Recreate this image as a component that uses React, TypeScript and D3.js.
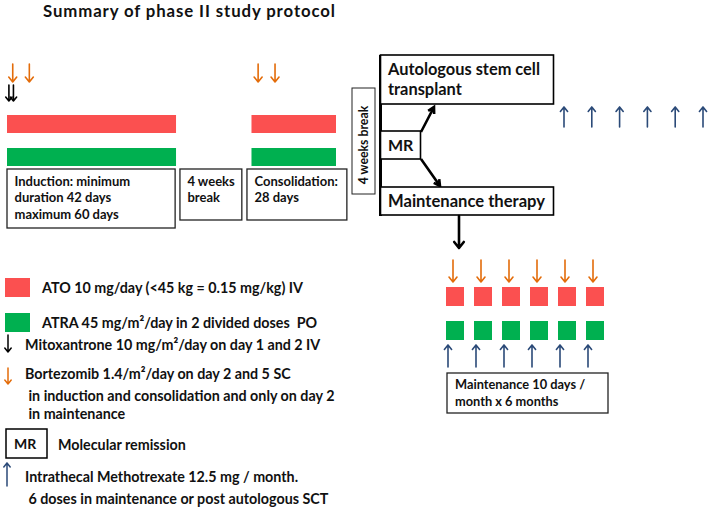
import React from "react";
import * as d3 from "d3";

const TITLE = "Summary of phase II study protocol";

// Timeline (days) for the induction / consolidation part
const phases = [
  { name: "induction", start: 0, end: 56 },
  { name: "consolidation", start: 81, end: 109 },
];
const bortezomibDays = [1.9, 7.4, 83.2, 88.8];
const mitoxantroneDays = [0.3, 1.8];

const phaseBoxes = [
  { start: 0, end: 55.7, lines: ["Induction: minimum", "duration 42 days", "maximum 60 days"], h: 59 },
  { start: 57.3, end: 77.8, lines: ["4 weeks", "break"], h: 51 },
  { start: 79.5, end: 112.6, lines: ["Consolidation:", "28 days"], h: 51 },
];

const maintenanceCycles = [1, 2, 3, 4, 5, 6];
const postSctDoses = [1, 2, 3, 4, 5, 6];

const legendItems = [
  { kind: "red", lines: ["ATO 10 mg/day (<45 kg = 0.15 mg/kg) IV"] },
  { kind: "green", lines: ["ATRA 45 mg/m\u00b2/day in 2 divided doses  PO"] },
  { kind: "black", lines: ["Mitoxantrone 10 mg/m\u00b2/day on day 1 and 2 IV"] },
  { kind: "orange", lines: ["Bortezomib 1.4/m\u00b2/day on day 2 and 5 SC", " in induction and consolidation and only on day 2", " in maintenance"] },
  { kind: "mr", lines: ["Molecular remission"] },
  { kind: "blue", lines: ["Intrathecal Methotrexate 12.5 mg / month.", " 6 doses in maintenance or post autologous SCT"] },
];

const RED = "#fb5050";
const GREEN = "#00b050";
const ORANGE = "#e36c0a";
const BLUE = "#2b4a78";
const FONT = "Lato, 'Open Sans', sans-serif";

const xDay = d3.scaleLinear().domain([0, 109]).range([7, 336]);
const xCycle = d3.scaleLinear().domain([1, 6]).range([455, 595]);
const xDose = d3.scaleLinear().domain([1, 6]).range([564, 703]);

function Arrow({ x, y1, y2, color, w = 1.6, head = 5 }: { x: number; y1: number; y2: number; color: string; w?: number; head?: number }) {
  const dir = y2 > y1 ? 1 : -1;
  const path = d3.path();
  path.moveTo(x, y1);
  path.lineTo(x, y2);
  path.moveTo(x - head * 0.8, y2 - dir * head);
  path.lineTo(x, y2);
  path.lineTo(x + head * 0.8, y2 - dir * head);
  return <path d={path.toString()} fill="none" stroke={color} strokeWidth={w} strokeLinecap="round" strokeLinejoin="round" />;
}

function Slanted({ x1, y1, x2, y2 }: { x1: number; y1: number; x2: number; y2: number }) {
  const a = Math.atan2(y2 - y1, x2 - x1);
  const h = 7;
  const p = d3.path();
  p.moveTo(x1, y1);
  p.lineTo(x2, y2);
  p.moveTo(x2 - h * Math.cos(a - 0.5), y2 - h * Math.sin(a - 0.5));
  p.lineTo(x2, y2);
  p.lineTo(x2 - h * Math.cos(a + 0.5), y2 - h * Math.sin(a + 0.5));
  return <path d={p.toString()} fill="none" stroke="#000" strokeWidth={2.6} />;
}

export default function App() {
  const legendY = [287, 322, 344, 373, 444, 476];
  const lineGaps = [0, 22, 39.5];
  return (
    <svg width={709} height={508} style={{ position: "absolute", left: 0, top: 0, background: "#fff" }} fontFamily={FONT}>
      <text x={43} y={17} fontSize={16.8} fontWeight={700} fill="#111" textLength={292} lengthAdjust="spacing">{TITLE}</text>

      {/* top arrows */}
      {bortezomibDays.map((d, i) => (
        <Arrow key={"b" + i} x={xDay(d)} y1={64} y2={82} color={ORANGE} />
      ))}
      {mitoxantroneDays.map((d, i) => (
        <Arrow key={"m" + i} x={xDay(d) + 1} y1={85} y2={101} color="#000" w={1.6} head={4} />
      ))}

      {/* bars */}
      {phases.map((p) => (
        <g key={p.name}>
          <rect x={xDay(p.start)} y={115} width={xDay(p.end) - xDay(p.start)} height={18} fill={RED} />
          <rect x={xDay(p.start)} y={148} width={xDay(p.end) - xDay(p.start)} height={18} fill={GREEN} />
        </g>
      ))}

      {/* phase boxes */}
      {phaseBoxes.map((b, i) => (
        <g key={i}>
          <rect x={xDay(b.start)} y={169} width={xDay(b.end) - xDay(b.start)} height={b.h} fill="#fff" stroke="#222" strokeWidth={1.3} />
          {b.lines.map((l, j) => (
            <text key={j} x={xDay(b.start) + 7.5} y={185.5 + j * 16.5} fontSize={13} fontWeight={700} fill="#111">{l}</text>
          ))}
        </g>
      ))}

      {/* vertical 4 weeks break */}
      <rect x={352} y={88} width={23} height={106} fill="#fff" stroke="#222" strokeWidth={1} />
      <text transform="translate(368,145) rotate(-90)" textAnchor="middle" fontSize={12.3} fontWeight={700} fill="#111">4 weeks break</text>

      {/* decision part */}
      <line x1={380.5} y1={55} x2={380.5} y2={216} stroke="#000" strokeWidth={3} />
      <rect x={380.5} y={55} width={173} height={49} fill="#fff" stroke="#000" strokeWidth={1.6} />
      <text x={388} y={75} fontSize={16.4} fontWeight={700} fill="#111">Autologous stem cell</text>
      <text x={388} y={95} fontSize={16.4} fontWeight={700} fill="#111">transplant</text>
      <rect x={380.5} y={131} width={40} height={28} fill="#fff" stroke="#000" strokeWidth={1.6} />
      <text x={388} y={151} fontSize={16} fontWeight={700} fill="#111">MR</text>
      <Slanted x1={421} y1={132} x2={434} y2={107} />
      <Slanted x1={421} y1={159} x2={440} y2={186} />
      <rect x={380.5} y={187} width={173} height={28} fill="#fff" stroke="#000" strokeWidth={1.6} />
      <text x={388} y={207} fontSize={16.6} fontWeight={700} fill="#111">Maintenance therapy</text>
      <Arrow x={459} y1={216} y2={248} color="#000" w={2.6} head={6} />

      {postSctDoses.map((d) => (
        <Arrow key={"p" + d} x={xDose(d)} y1={127} y2={107} color={BLUE} w={1.6} head={4.5} />
      ))}

      {/* maintenance cycles */}
      {maintenanceCycles.map((c) => (
        <g key={"c" + c}>
          <Arrow x={xCycle(c) - 2} y1={260} y2={282} color={ORANGE} />
          <rect x={xCycle(c) - 9} y={287} width={18} height={19} fill={RED} />
          <rect x={xCycle(c) - 9} y={321} width={18} height={19} fill={GREEN} />
          <Arrow x={xCycle(c) - 7} y1={367} y2={345} color={BLUE} w={1.6} head={4.5} />
        </g>
      ))}
      <rect x={447} y={373} width={161} height={40} fill="#fff" stroke="#222" strokeWidth={1.3} />
      <text x={455} y={388.5} fontSize={12.8} fontWeight={700} fill="#111">Maintenance 10 days /</text>
      <text x={455} y={405.5} fontSize={12.8} fontWeight={700} fill="#111">month x 6 months</text>

      {/* legend */}
      {legendItems.map((it, i) => {
        const y = legendY[i];
        let sym: React.ReactNode = null;
        let tx = 25;
        if (it.kind === "red" || it.kind === "green") {
          sym = <rect x={5} y={y - 9} width={25} height={19} fill={it.kind === "red" ? RED : GREEN} />;
          tx = 42;
        } else if (it.kind === "black") sym = <Arrow x={8} y1={y - 9} y2={y + 8} color="#000" w={1.5} head={4} />;
        else if (it.kind === "orange") sym = <Arrow x={8} y1={y - 5} y2={y + 11} color={ORANGE} w={1.5} head={4} />;
        else if (it.kind === "blue") sym = <Arrow x={7} y1={y + 10} y2={y - 13} color={BLUE} w={1.5} head={4} />;
        else if (it.kind === "mr") {
          sym = (
            <g>
              <rect x={6} y={y - 15} width={41} height={29} fill="#fff" stroke="#000" strokeWidth={1.5} />
              <text x={14} y={y + 5} fontSize={14} fontWeight={700} fill="#111">MR</text>
            </g>
          );
          tx = 58;
        }
        return (
          <g key={i}>
            {sym}
            {it.lines.map((l, j) => (
              <text key={j} x={tx} y={y + 6 + lineGaps[j]} fontSize={14.3} fontWeight={700} fill="#111" style={{ whiteSpace: "pre" }}>{l}</text>
            ))}
          </g>
        );
      })}
    </svg>
  );
}
